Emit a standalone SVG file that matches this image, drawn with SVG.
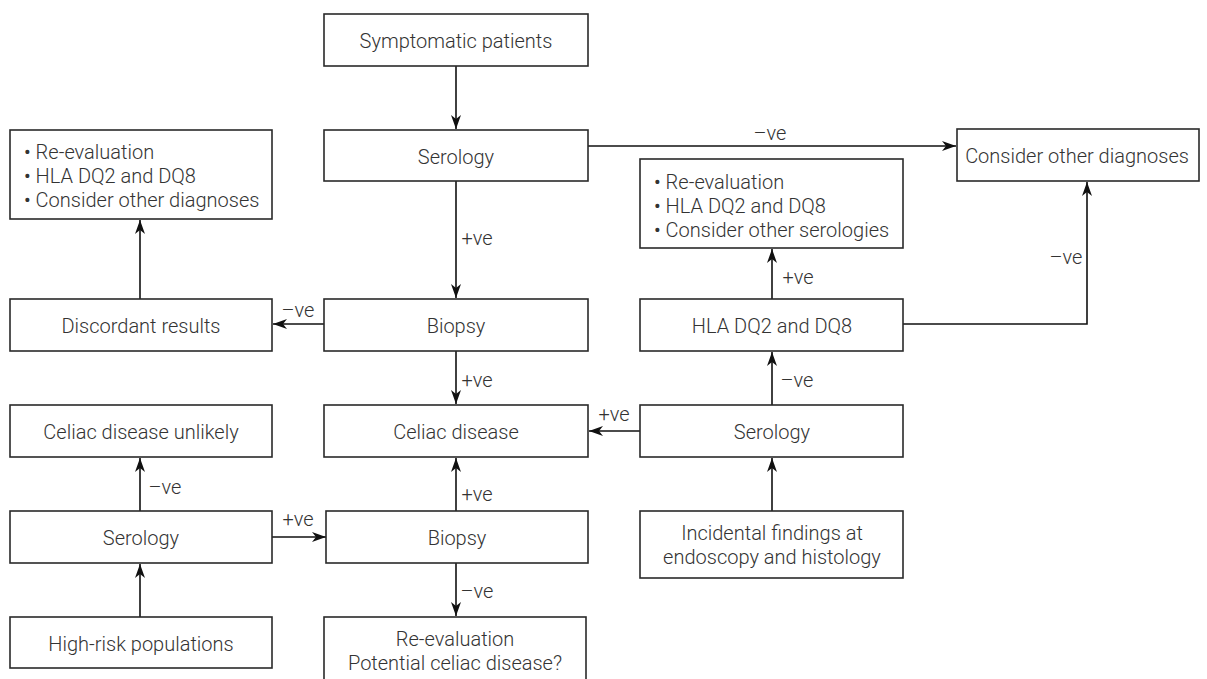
<svg xmlns="http://www.w3.org/2000/svg" width="1207" height="679" viewBox="0 0 1207 679">
<style>
.box{fill:#fff;stroke:#2a2a2a;stroke-width:1.6}
.t{font-family:Roboto,"Liberation Sans",sans-serif;font-weight:300;font-size:20px;fill:#333;text-anchor:middle;dominant-baseline:central}
.tl{font-family:Roboto,"Liberation Sans",sans-serif;font-weight:300;font-size:20px;fill:#333;dominant-baseline:central}
.b{font-weight:400}
.lab{font-family:Roboto,"Liberation Sans",sans-serif;font-weight:300;font-size:20px;fill:#333;text-anchor:middle;dominant-baseline:central}
.c{fill:none;stroke:#111;stroke-width:1.6}
</style>
<defs>
<marker id="ah" viewBox="0 0 14 10" refX="14" refY="5" markerWidth="14" markerHeight="10" markerUnits="userSpaceOnUse" orient="auto">
<path d="M0,0 L14,5 L0,10 L4,5 Z" fill="#111"/>
</marker>
</defs>
<rect width="1207" height="679" fill="#fff"/>
<g id="connectors">
<path class="c" d="M456,66 V129" marker-end="url(#ah)"/>
<path class="c" d="M588,146 H956" marker-end="url(#ah)"/>
<path class="c" d="M456,181 V298" marker-end="url(#ah)"/>
<path class="c" d="M324,324 H273" marker-end="url(#ah)"/>
<path class="c" d="M140,299 V220" marker-end="url(#ah)"/>
<path class="c" d="M456,351 V404" marker-end="url(#ah)"/>
<path class="c" d="M640,431 H589" marker-end="url(#ah)"/>
<path class="c" d="M772,405 V352" marker-end="url(#ah)"/>
<path class="c" d="M772,299 V249" marker-end="url(#ah)"/>
<path class="c" d="M903,324 H1087 V182" marker-end="url(#ah)"/>
<path class="c" d="M772,511 V458" marker-end="url(#ah)"/>
<path class="c" d="M456,511 V458" marker-end="url(#ah)"/>
<path class="c" d="M456,563 V616" marker-end="url(#ah)"/>
<path class="c" d="M272,537 H326" marker-end="url(#ah)"/>
<path class="c" d="M140,511 V458" marker-end="url(#ah)"/>
<path class="c" d="M140,617 V564" marker-end="url(#ah)"/>
<text class="lab" x="770" y="133">–ve</text>
<text class="lab" x="477" y="238">+ve</text>
<text class="lab" x="298" y="310">–ve</text>
<text class="lab" x="798" y="277">+ve</text>
<text class="lab" x="1066" y="257">–ve</text>
<text class="lab" x="477" y="380">+ve</text>
<text class="lab" x="614" y="414">+ve</text>
<text class="lab" x="797" y="380">–ve</text>
<text class="lab" x="165" y="487">–ve</text>
<text class="lab" x="477" y="494">+ve</text>
<text class="lab" x="298" y="519">+ve</text>
<text class="lab" x="477" y="591">–ve</text>
</g>
<g id="symptomatic"><rect class="box" x="324" y="14" width="264" height="52"/><text class="t" x="456" y="41">Symptomatic patients</text></g>
<g id="serology-top"><rect class="box" x="324" y="130" width="264" height="51"/><text class="t" x="456" y="157">Serology</text></g>
<g id="consider-other-diag"><rect class="box" x="957" y="129" width="242" height="52"/><text class="t" x="1077" y="156">Consider other diagnoses</text></g>
<g id="left-bullets"><rect class="box" x="10" y="130" width="262" height="89"/>
<text class="tl" x="24" y="152"><tspan class="b">•</tspan> Re-evaluation</text>
<text class="tl" x="24" y="176"><tspan class="b">•</tspan> HLA DQ2 and DQ8</text>
<text class="tl" x="24" y="200"><tspan class="b">•</tspan> Consider other diagnoses</text></g>
<g id="right-bullets"><rect class="box" x="640" y="159" width="263" height="89"/>
<text class="tl" x="654" y="182"><tspan class="b">•</tspan> Re-evaluation</text>
<text class="tl" x="654" y="206"><tspan class="b">•</tspan> HLA DQ2 and DQ8</text>
<text class="tl" x="654" y="230"><tspan class="b">•</tspan> Consider other serologies</text></g>
<g id="discordant"><rect class="box" x="10" y="299" width="262" height="52"/><text class="t" x="141" y="326">Discordant results</text></g>
<g id="biopsy-top"><rect class="box" x="324" y="299" width="264" height="52"/><text class="t" x="456" y="326">Biopsy</text></g>
<g id="hla"><rect class="box" x="640" y="299" width="263" height="52"/><text class="t" x="772" y="326">HLA DQ2 and DQ8</text></g>
<g id="celiac-unlikely"><rect class="box" x="10" y="405" width="262" height="52"/><text class="t" x="141" y="432">Celiac disease unlikely</text></g>
<g id="celiac"><rect class="box" x="324" y="405" width="264" height="52"/><text class="t" x="456" y="432">Celiac disease</text></g>
<g id="serology-right"><rect class="box" x="640" y="405" width="263" height="52"/><text class="t" x="772" y="432">Serology</text></g>
<g id="serology-left"><rect class="box" x="10" y="511" width="262" height="52"/><text class="t" x="141" y="538">Serology</text></g>
<g id="biopsy-bottom"><rect class="box" x="326" y="511" width="262" height="52"/><text class="t" x="457" y="538">Biopsy</text></g>
<g id="incidental"><rect class="box" x="640" y="511" width="263" height="67"/><text class="t" x="772" y="533">Incidental findings at</text><text class="t" x="772" y="557">endoscopy and histology</text></g>
<g id="high-risk"><rect class="box" x="10" y="617" width="262" height="51"/><text class="t" x="141" y="644">High-risk populations</text></g>
<g id="re-eval"><rect class="box" x="324" y="617" width="262" height="70"/><text class="t" x="455" y="639">Re-evaluation</text><text class="t" x="455" y="663">Potential celiac disease?</text></g>
</svg>
